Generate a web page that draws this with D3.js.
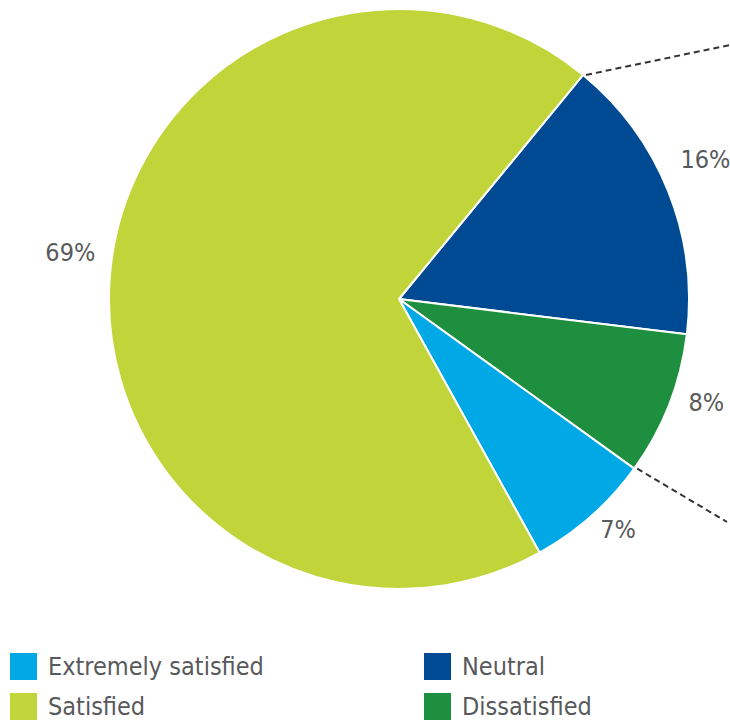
<!DOCTYPE html>
<html>
<head>
<meta charset="utf-8">
<script src="https://cdn.jsdelivr.net/npm/d3@7"></script>
<style>
  html, body { margin: 0; padding: 0; background: #fff; }
  svg { display: block; }
  text { font-family: "Liberation Sans Narrow", "DejaVu Sans Condensed", "Roboto Condensed", sans-serif; fill: #58595b; }
</style>
</head>
<body>
<svg id="chart" width="730" height="720"></svg>
<script>
// Satisfaction shares, in drawing order clockwise from the top-right
const categories = ["Neutral", "Dissatisfied", "Extremely satisfied", "Satisfied"];
const values = [16, 8, 7, 69];
const colors = ["#004a93", "#1e8f3e", "#00a9e6", "#c1d439"];
const legendOrder = ["Extremely satisfied", "Satisfied", "Neutral", "Dissatisfied"];

const svg = d3.select("#chart");
const cx = 399, cy = 299, radius = 290;
const startDeg = 39.4;

const color = d3.scaleOrdinal().domain(categories).range(colors);

const pie = d3.pie()
  .sort(null)
  .value(d => d.value)
  .startAngle(startDeg * Math.PI / 180)
  .endAngle((startDeg + 360) * Math.PI / 180);

const data = categories.map((c, i) => ({ name: c, value: values[i] }));
const arcs = pie(data);

const arc = d3.arc().innerRadius(0).outerRadius(radius);

const g = svg.append("g").attr("transform", `translate(${cx},${cy})`);

g.selectAll("path.slice")
  .data(arcs)
  .join("path")
  .attr("class", "slice")
  .attr("d", arc)
  .attr("fill", d => color(d.data.name))
  .attr("stroke", "#fff")
  .attr("stroke-width", 2)
  .attr("stroke-linejoin", "round");

// Percentage labels just outside the rim, lifted slightly above the mid-angle point
const labelArc = d3.arc().innerRadius(330).outerRadius(330);
g.selectAll("text.pct")
  .data(arcs)
  .join("text")
  .attr("class", "pct")
  .attr("transform", d => {
    const [x, y] = labelArc.centroid(d);
    return `translate(${x},${y - 17})`;
  })
  .attr("text-anchor", "middle")
  .attr("dy", "0.36em")
  .attr("font-size", 25)
  .text(d => d.data.value + "%");

// Dashed leader lines from the edges of the highlighted group (Neutral + Dissatisfied)
const pt = a => [radius * Math.sin(a), -radius * Math.cos(a)];
const leaders = [
  { from: pt(arcs[0].startAngle), to: [730 - cx, 45 - cy] },
  { from: pt(arcs[1].endAngle), to: [727 - cx, 522 - cy] }
];
g.selectAll("line.leader")
  .data(leaders)
  .join("line")
  .attr("class", "leader")
  .attr("x1", d => d.from[0] + 3)
  .attr("y1", d => d.from[1])
  .attr("x2", d => d.to[0])
  .attr("y2", d => d.to[1])
  .attr("stroke", "#333")
  .attr("stroke-width", 2)
  .attr("stroke-dasharray", "6,4");

// Legend: two columns, two rows
const legend = svg.append("g");
const items = legendOrder.map((name, i) => ({
  name,
  x: i < 2 ? 10 : 424,
  y: i % 2 === 0 ? 653 : 693
}));
const li = legend.selectAll("g.item").data(items).join("g")
  .attr("class", "item")
  .attr("transform", d => `translate(${d.x},${d.y})`);
li.append("rect")
  .attr("width", 27)
  .attr("height", 27)
  .attr("fill", d => color(d.name));
li.append("text")
  .attr("x", 38)
  .attr("y", 22)
  .attr("font-size", 25)
  .text(d => d.name);
</script>
</body>
</html>
